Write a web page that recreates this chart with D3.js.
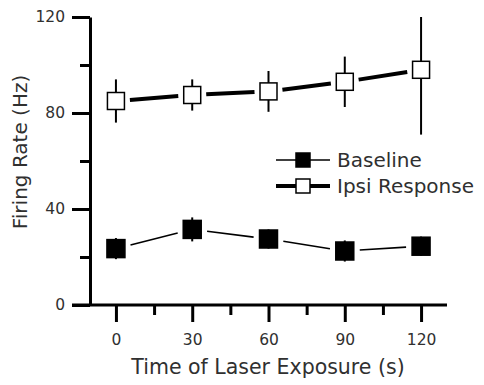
<!DOCTYPE html>
<html>
<head>
<meta charset="utf-8">
<script src="https://cdn.jsdelivr.net/npm/d3@7"></script>
<style>
  body { margin: 0; background: #fff; }
  text { font-family: "DejaVu Sans", sans-serif; fill: #303030; }
</style>
</head>
<body>
<div id="svg_chart"></div>
<script>
// data
var times = [0, 30, 60, 90, 120];
var baseline_mean = [23.5, 31.5, 27.5, 22.5, 24.5];
var baseline_err = [4.4, 5, 4, 4.4, 4];
var ipsi_mean = [85, 87.5, 89, 93, 98];
var ipsi_err = [9, 6.5, 8.5, 10.5, 27];
var x_ticks = [0, 30, 60, 90, 120];
var x_minor = [15, 45, 75, 105];
var y_ticks = [0, 40, 80, 120];
var y_minor = [20, 60, 100];
var series_names = ['Baseline', 'Ipsi Response'];

const svg_width = 484, svg_height = 385;
const plot_left = 90, plot_right = 447, plot_top = 17, plot_bottom = 305;

var svg = d3.select('#svg_chart').append('svg')
  .attr('width', svg_width)
  .attr('height', svg_height);

var x = d3.scaleLinear().domain([-10.2, 130.2]).range([plot_left, plot_right]);
var y = d3.scaleLinear().domain([0, 120]).range([plot_bottom, plot_top]);

// axes
var xAxis = svg.append('g')
  .attr('transform', `translate(0,${plot_bottom})`)
  .call(d3.axisBottom(x).tickValues(x_ticks).tickSize(17).tickPadding(12).tickSizeOuter(0));
var xMinor = svg.append('g')
  .attr('transform', `translate(0,${plot_bottom})`)
  .call(d3.axisBottom(x).tickValues(x_minor).tickSize(10).tickFormat('').tickSizeOuter(0));
var yAxis = svg.append('g')
  .attr('transform', `translate(${plot_left},0)`)
  .call(d3.axisLeft(y).tickValues(y_ticks).tickSize(18).tickPadding(7).tickSizeOuter(0));
var yMinor = svg.append('g')
  .attr('transform', `translate(${plot_left},0)`)
  .call(d3.axisLeft(y).tickValues(y_minor).tickSize(10).tickFormat('').tickSizeOuter(0));

[xAxis, xMinor, yAxis, yMinor].forEach(function(g){
  g.selectAll('path, line').attr('stroke', '#000').attr('stroke-width', 3);
  g.selectAll('text').style('font-size', '15.5px');
});
xAxis.select('.domain').attr('d', `M${plot_left - 18},0H${plot_right}`);
xMinor.select('.domain').remove();
yMinor.select('.domain').remove();

// axis titles
svg.append('text')
  .attr('x', 268)
  .attr('y', 374)
  .attr('text-anchor', 'middle')
  .style('font-size', '20.5px')
  .text('Time of Laser Exposure (s)');
svg.append('text')
  .attr('transform', 'translate(27,152) rotate(-90)')
  .attr('text-anchor', 'middle')
  .style('font-size', '20px')
  .text('Firing Rate (Hz)');

// connecting segments that stop short of the markers
function draw_segments(means, width, gap){
  for (var i = 0; i < times.length - 1; i++) {
    var x0 = x(times[i]), y0 = y(means[i]);
    var x1 = x(times[i + 1]), y1 = y(means[i + 1]);
    var dx = x1 - x0, dy = y1 - y0, len = Math.sqrt(dx * dx + dy * dy);
    var ux = dx / len, uy = dy / len;
    svg.append('line')
      .attr('x1', x0 + ux * gap).attr('y1', y0 + uy * gap)
      .attr('x2', x1 - ux * gap).attr('y2', y1 - uy * gap)
      .attr('stroke', '#000')
      .attr('stroke-width', width);
  }
}
draw_segments(baseline_mean, 1.6, 15);
draw_segments(ipsi_mean, 4, 14);

function draw_points(means, errs, size, fill){
  var g = svg.append('g');
  g.selectAll('line.err').data(times).enter().append('line')
    .attr('x1', function(d){ return x(d); })
    .attr('x2', function(d){ return x(d); })
    .attr('y1', function(d, i){ return y(Math.min(120, means[i] + errs[i])); })
    .attr('y2', function(d, i){ return y(means[i] - errs[i]); })
    .attr('stroke', '#000')
    .attr('stroke-width', 2);
  g.selectAll('rect').data(times).enter().append('rect')
    .attr('x', function(d){ return x(d) - size / 2; })
    .attr('y', function(d, i){ return y(means[i]) - size / 2; })
    .attr('width', size)
    .attr('height', size)
    .attr('fill', fill)
    .attr('stroke', '#000')
    .attr('stroke-width', 1.5);
}
draw_points(baseline_mean, baseline_err, 18, '#000');
draw_points(ipsi_mean, ipsi_err, 17, '#fff');

// legend
var legend = svg.append('g');
var legend_rows = [
  {name: series_names[0], y: 160, width: 1.6, fill: '#000'},
  {name: series_names[1], y: 186, width: 4, fill: '#fff'}
];
legend_rows.forEach(function(r){
  legend.append('line')
    .attr('x1', 276).attr('x2', 330)
    .attr('y1', r.y).attr('y2', r.y)
    .attr('stroke', '#000').attr('stroke-width', r.width);
  legend.append('rect')
    .attr('x', 296).attr('y', r.y - 7)
    .attr('width', 14).attr('height', 14)
    .attr('fill', r.fill)
    .attr('stroke', '#000').attr('stroke-width', 1.5);
  legend.append('text')
    .attr('x', 337).attr('y', r.y + 6.5)
    .style('font-size', '20px')
    .text(r.name);
});
</script>
</body>
</html>
